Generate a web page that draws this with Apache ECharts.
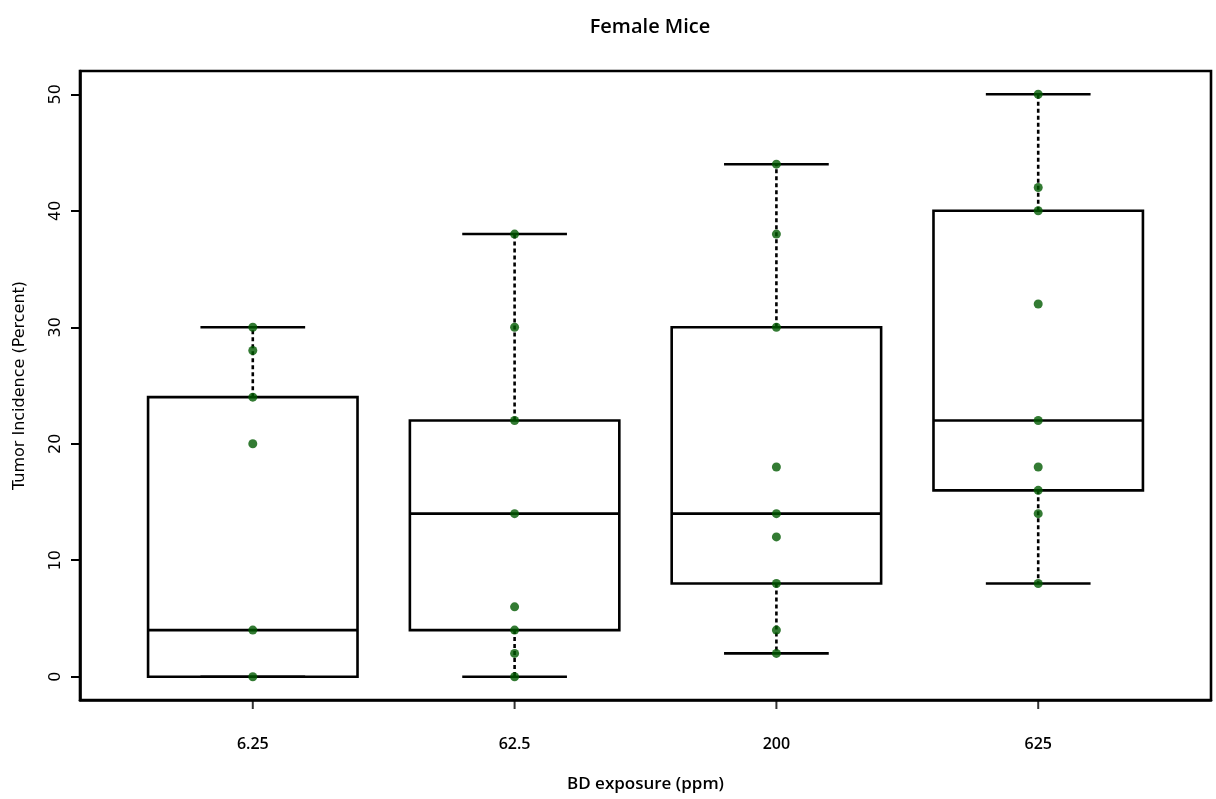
<!DOCTYPE html>
<html>
<head>
<meta charset="utf-8">
<title>Female Mice</title>
<script src="https://cdn.jsdelivr.net/npm/echarts@6/dist/echarts.min.js"></script>
<style>
  html, body { margin: 0; padding: 0; background: #ffffff; }
  #chart { width: 1216px; height: 799px; }
</style>
</head>
<body>
<div id="chart"></div>
<script>
// Exposure groups (ppm)
const categories = ['6.25', '62.5', '200', '625'];

// Box summaries per group (percent)
const whiskerLow  = [0, 0, 2, 8];
const lowerHinge  = [0, 4, 8, 16];
const medians     = [4, 14, 14, 22];
const upperHinge  = [24, 22, 30, 40];
const whiskerHigh = [30, 38, 44, 50];

// Observed tumor incidence per group (percent)
const pts_6_25 = [30, 28, 24, 20, 4, 0];
const pts_62_5 = [38, 30, 22, 14, 6, 4, 2, 0];
const pts_200  = [44, 38, 30, 18, 14, 12, 8, 4, 2];
const pts_625  = [50, 42, 40, 32, 22, 18, 16, 14, 8];

// Axis ticks
const yTicks = [0, 10, 20, 30, 40, 50];
const xTicks = [1, 2, 3, 4];

const Y_MIN = -2;
const Y_MAX = 52;

const groupPoints = [pts_6_25, pts_62_5, pts_200, pts_625];

const boxData = categories.map((c, i) => [i + 1, whiskerLow[i], lowerHinge[i], medians[i], upperHinge[i], whiskerHigh[i]]);
const scatterData = [];
groupPoints.forEach((arr, i) => arr.forEach(v => scatterData.push([i + 1, v])));
const tickData = xTicks.map(v => [v, Y_MIN]);

const BOX_W = 0.8;
const CAP_W = 0.4;
const TICK_LEN = 9;

// Box, median, dashed whiskers and caps for one group
function renderBox(params, api) {
  const x = api.value(0);
  const pLow = api.coord([x, api.value(1)]);
  const pQ1  = api.coord([x, api.value(2)]);
  const pMed = api.coord([x, api.value(3)]);
  const pQ3  = api.coord([x, api.value(4)]);
  const pHigh = api.coord([x, api.value(5)]);
  const half = api.size([BOX_W, 0])[0] / 2;
  const capHalf = api.size([CAP_W, 0])[0] / 2;
  const cx = pMed[0];
  const solid = { stroke: '#000', lineWidth: 2.6, fill: null };
  const dashed = { stroke: '#000', lineWidth: 2.6, lineDash: [4, 3], fill: null };
  return {
    type: 'group',
    children: [
      { type: 'line', shape: { x1: cx, y1: pQ3[1], x2: cx, y2: pHigh[1] }, style: dashed },
      { type: 'line', shape: { x1: cx, y1: pQ1[1], x2: cx, y2: pLow[1] }, style: dashed },
      { type: 'line', shape: { x1: cx - capHalf, y1: pHigh[1], x2: cx + capHalf, y2: pHigh[1] }, style: solid },
      { type: 'line', shape: { x1: cx - capHalf, y1: pLow[1], x2: cx + capHalf, y2: pLow[1] }, style: solid },
      { type: 'rect', shape: { x: cx - half, y: pQ3[1], width: half * 2, height: pQ1[1] - pQ3[1] }, style: solid },
      { type: 'line', shape: { x1: cx - half, y1: pMed[1], x2: cx + half, y2: pMed[1] }, style: solid }
    ]
  };
}

const chart = echarts.init(document.getElementById('chart'), null, { renderer: 'canvas' });

const condensed = '"Liberation Sans Narrow", "Open Sans", "Noto Sans", sans-serif';

chart.setOption({
  animation: false,
  backgroundColor: '#ffffff',
  title: {
    text: 'Female Mice',
    left: 645,
    top: 12,
    textAlign: 'center',
    textStyle: { fontFamily: condensed, fontSize: 20, fontWeight: 600, color: '#000' }
  },
  grid: {
    left: 80, right: 5, top: 71, bottom: 99,
    outerBoundsMode: 'none',
    show: true, borderColor: '#000', borderWidth: 2.6
  },
  xAxis: {
    type: 'value',
    min: 0.34,
    max: 4.66,
    name: 'BD exposure (ppm)',
    nameLocation: 'middle',
    nameGap: 76,
    nameTextStyle: { fontFamily: condensed, fontSize: 17, fontWeight: 600, color: '#000' },
    axisLine: { show: true, onZero: false, lineStyle: { color: '#000', width: 2.6 } },
    splitLine: { show: false },
    axisTick: { show: false },
    axisLabel: {
      customValues: xTicks,
      margin: 36,
      fontFamily: condensed, fontSize: 16, fontWeight: 600, color: '#000',
      formatter: v => categories[Math.round(v) - 1]
    }
  },
  yAxis: {
    type: 'value',
    min: Y_MIN,
    max: Y_MAX,
    name: 'Tumor Incidence (Percent)',
    nameLocation: 'middle',
    nameGap: 52,
    nameRotate: 90,
    nameTextStyle: { fontFamily: '"DejaVu Sans", sans-serif', fontSize: 16, color: '#000' },
    axisLine: { show: true, onZero: false, lineStyle: { color: '#000', width: 2.6 } },
    splitLine: { show: false },
    axisTick: { show: true, length: 9, customValues: yTicks, lineStyle: { color: '#000', width: 2 } },
    axisLabel: {
      customValues: yTicks,
      rotate: 90,
      margin: 16,
      fontFamily: '"DejaVu Sans", sans-serif', fontSize: 16, color: '#000'
    }
  },
  series: [
    {
      type: 'custom',
      renderItem: renderBox,
      data: boxData,
      encode: { x: 0, y: [1, 2, 3, 4, 5] },
      z: 2,
      silent: true
    },
    {
      type: 'scatter',
      data: scatterData,
      symbol: 'circle',
      symbolSize: 9,
      itemStyle: { color: '#005a00' },
      z: 3,
      silent: true
    },
    {
      // Category tick marks hanging below the x axis
      type: 'scatter',
      data: tickData,
      symbol: 'rect',
      symbolSize: [2, TICK_LEN],
      symbolOffset: [0, TICK_LEN / 2],
      itemStyle: { color: '#000' },
      clip: false,
      z: 10,
      silent: true
    }
  ]
});
</script>
</body>
</html>
